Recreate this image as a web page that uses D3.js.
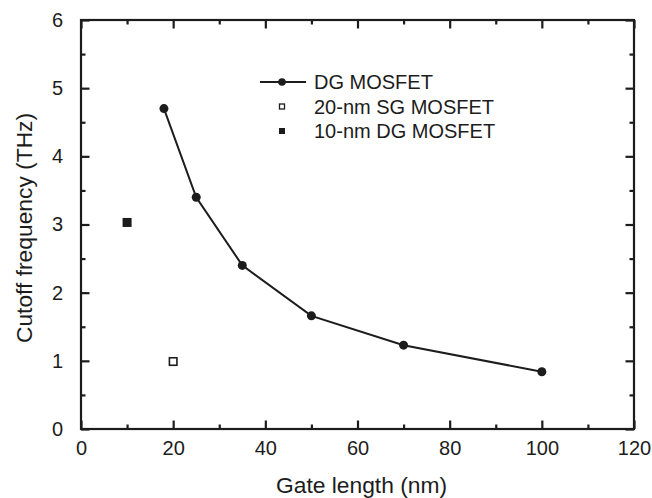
<!DOCTYPE html>
<html>
<head>
<meta charset="utf-8">
<script src="https://cdn.jsdelivr.net/npm/d3@7"></script>
<style>
  html, body { margin: 0; padding: 0; background: #fff; }
  svg { display: block; font-family: "Liberation Sans", Arial, Helvetica, sans-serif; }
</style>
</head>
<body>
<svg id="chart" width="652" height="498"></svg>
<script>
// DG MOSFET cutoff frequency versus gate length
const gateLength = [18, 25, 35, 50, 70, 100];
const cutoffTHz = [4.70, 3.40, 2.40, 1.66, 1.23, 0.84];

// single reference devices
const sg20 = { x: 20, y: 0.99 };
const dg10 = { x: 10, y: 3.03 };

const xTicks = [0, 20, 40, 60, 80, 100, 120];
const xMinor = [10, 30, 50, 70, 90, 110];
const yTicks = [0, 1, 2, 3, 4, 5, 6];
const yMinor = [0.5, 1.5, 2.5, 3.5, 4.5, 5.5];

const legendLabels = ["DG MOSFET", "20-nm SG MOSFET", "10-nm DG MOSFET"];
const xTitle = "Gate length (nm)";
const yTitle = "Cutoff frequency (THz)";

const ink = "#1c1c1c";
const margin = { left: 81, right: 18, top: 20, bottom: 69 };
const W = 652, H = 498;

const svg = d3.select("#chart");
const x = d3.scaleLinear().domain([0, 120]).range([margin.left, W - margin.right]);
const y = d3.scaleLinear().domain([0, 6]).range([H - margin.bottom, margin.top]);

const MAJ = 8.5, MIN = 4.5;

function styleAxis(g) {
  g.select(".domain").remove();
  g.selectAll("line").attr("stroke", ink).attr("stroke-width", 2.2);
  g.selectAll("text").attr("fill", ink).attr("font-size", 20);
}

// bottom axis
svg.append("g").attr("transform", `translate(0,${y(0)})`)
  .call(d3.axisBottom(x).tickValues(xTicks).tickFormat(d3.format("d")).tickSizeInner(-MAJ).tickSizeOuter(0).tickPadding(12))
  .call(styleAxis);
svg.append("g").attr("transform", `translate(0,${y(0)})`)
  .call(d3.axisBottom(x).tickValues(xMinor).tickFormat("").tickSizeInner(-MIN).tickSizeOuter(0))
  .call(styleAxis);
// top axis
svg.append("g").attr("transform", `translate(0,${y(6)})`)
  .call(d3.axisTop(x).tickValues(xTicks).tickFormat("").tickSizeInner(-MAJ).tickSizeOuter(0))
  .call(styleAxis);
svg.append("g").attr("transform", `translate(0,${y(6)})`)
  .call(d3.axisTop(x).tickValues(xMinor).tickFormat("").tickSizeInner(-MIN).tickSizeOuter(0))
  .call(styleAxis);
// left axis
svg.append("g").attr("transform", `translate(${x(0)},0)`)
  .call(d3.axisLeft(y).tickValues(yTicks).tickFormat(d3.format("d")).tickSizeInner(-MAJ).tickSizeOuter(0).tickPadding(18))
  .call(styleAxis);
svg.append("g").attr("transform", `translate(${x(0)},0)`)
  .call(d3.axisLeft(y).tickValues(yMinor).tickFormat("").tickSizeInner(-MIN).tickSizeOuter(0))
  .call(styleAxis);
// right axis
svg.append("g").attr("transform", `translate(${x(120)},0)`)
  .call(d3.axisRight(y).tickValues(yTicks).tickFormat("").tickSizeInner(-MAJ).tickSizeOuter(0))
  .call(styleAxis);
svg.append("g").attr("transform", `translate(${x(120)},0)`)
  .call(d3.axisRight(y).tickValues(yMinor).tickFormat("").tickSizeInner(-MIN).tickSizeOuter(0))
  .call(styleAxis);

// plot frame
svg.append("rect")
  .attr("x", x(0)).attr("y", y(6))
  .attr("width", x(120) - x(0)).attr("height", y(0) - y(6))
  .attr("fill", "none").attr("stroke", ink).attr("stroke-width", 2.2);

// axis titles
svg.append("text")
  .attr("x", (x(0) + x(120)) / 2 + 4).attr("y", 493)
  .attr("text-anchor", "middle").attr("font-size", 22.8).attr("fill", ink)
  .text(xTitle);
svg.append("text")
  .attr("transform", `translate(32,228) rotate(-90)`)
  .attr("text-anchor", "middle").attr("font-size", 22.8).attr("fill", ink)
  .text(yTitle);

// DG MOSFET curve
const pts = gateLength.map((g, i) => ({ x: g, y: cutoffTHz[i] }));
svg.append("path")
  .datum(pts)
  .attr("fill", "none").attr("stroke", ink).attr("stroke-width", 2)
  .attr("d", d3.line().x(d => x(d.x)).y(d => y(d.y)));
svg.append("g").selectAll("circle").data(pts).join("circle")
  .attr("cx", d => x(d.x)).attr("cy", d => y(d.y)).attr("r", 4.5)
  .attr("fill", ink);

// single-device markers
const sq = 9;
svg.append("rect")
  .attr("x", x(dg10.x) - sq / 2).attr("y", y(dg10.y) - sq / 2)
  .attr("width", sq).attr("height", sq).attr("fill", ink);
svg.append("rect")
  .attr("x", x(sg20.x) - (sq - 1.5) / 2).attr("y", y(sg20.y) - (sq - 1.5) / 2)
  .attr("width", sq - 1.5).attr("height", sq - 1.5)
  .attr("fill", "#fff").attr("stroke", ink).attr("stroke-width", 1.6);

// legend
const lg = svg.append("g").attr("fill", ink);
const lx = 282, ly = 82, dy = 24.5;
lg.append("line").attr("x1", lx - 22).attr("x2", lx + 24).attr("y1", ly).attr("y2", ly)
  .attr("stroke", ink).attr("stroke-width", 2);
lg.append("circle").attr("cx", lx).attr("cy", ly).attr("r", 3.8);
lg.append("rect").attr("x", lx - 2.5).attr("y", ly + dy - 2.5).attr("width", 5).attr("height", 5)
  .attr("fill", "#fff").attr("stroke", ink).attr("stroke-width", 1.3);
lg.append("rect").attr("x", lx - 3).attr("y", ly + 2 * dy - 3).attr("width", 6).attr("height", 6);
lg.selectAll("text").data(legendLabels).join("text")
  .attr("x", 314).attr("y", (d, i) => ly + 7 + i * dy)
  .attr("font-size", 20)
  .text(d => d);
</script>
</body>
</html>
